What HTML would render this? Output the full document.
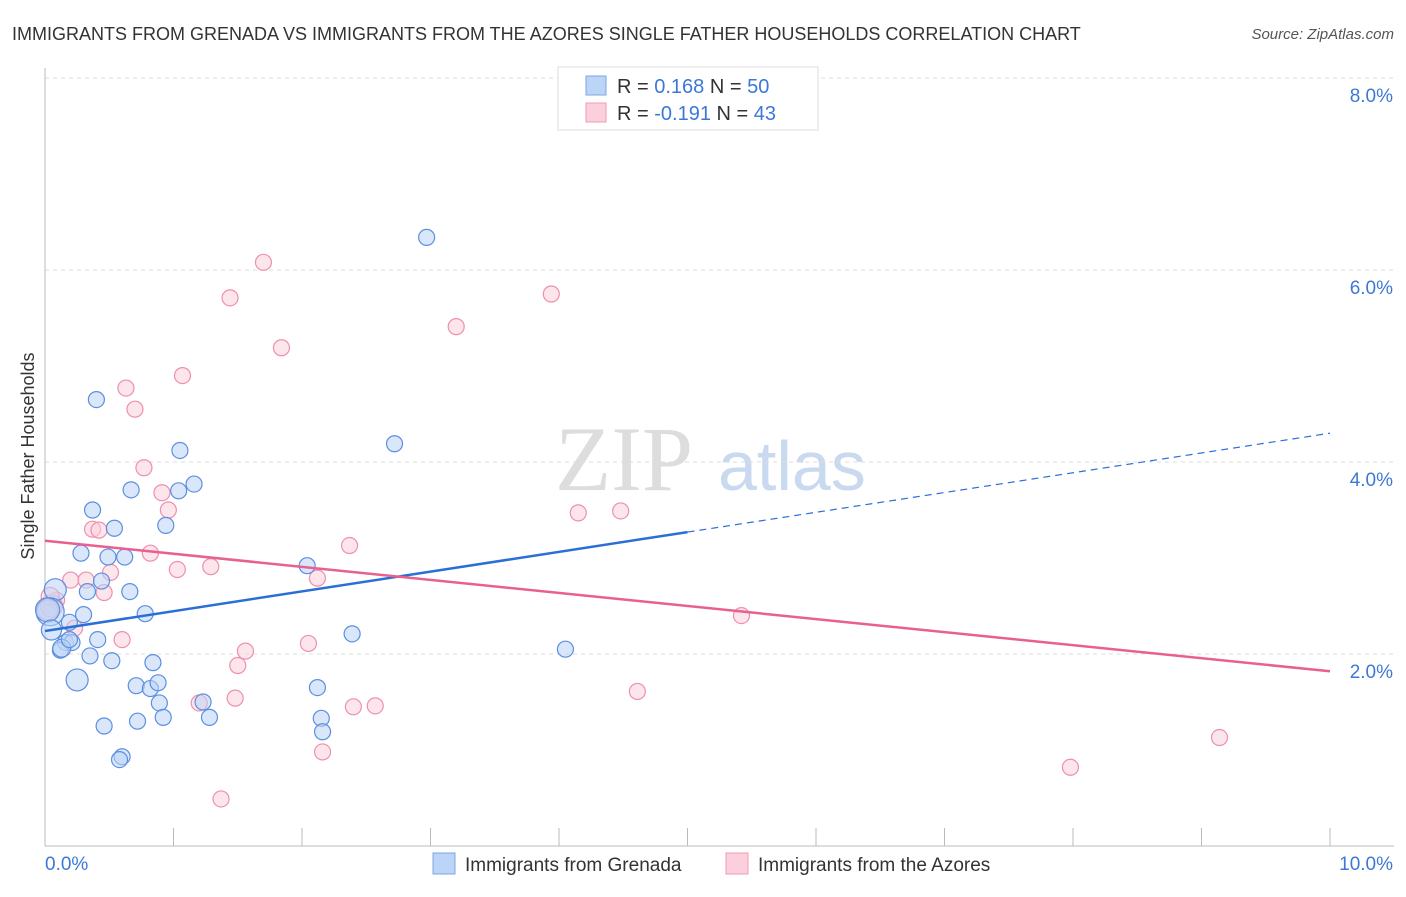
<!DOCTYPE html>
<html><head><meta charset="utf-8"><style>
body{margin:0;background:#fff;font-family:"Liberation Sans",sans-serif}
</style></head><body>
<svg id="c" width="1406" height="892" xmlns="http://www.w3.org/2000/svg">
<text x="12" y="40" font-size="18" fill="#333">IMMIGRANTS FROM GRENADA VS IMMIGRANTS FROM THE AZORES SINGLE FATHER HOUSEHOLDS CORRELATION CHART</text>
<text x="1394" y="39" font-size="15" fill="#555" font-style="italic" text-anchor="end">Source: ZipAtlas.com</text>
<text x="555" y="490" font-size="92" fill="#ddd" font-family="Liberation Serif,serif">ZIP</text>
<text x="718" y="490" font-size="70" fill="#c9d9ef">atlas</text>
<text transform="translate(34,456) rotate(-90)" font-size="18" fill="#333" text-anchor="middle">Single Father Households</text>
<g id="grid"></g><g id="pts"></g><g id="lines"></g>
<g>
<rect x="558" y="67" width="260" height="63" fill="#fff" stroke="#ddd"/>
<rect x="586" y="76" width="20" height="19" fill="#bcd4f5" stroke="#7aa6e6"/>
<rect x="586" y="103" width="20" height="19" fill="#fbd0dc" stroke="#f09ab4"/>
<text x="617" y="93" font-size="20" fill="#333">R = <tspan fill="#3c78d8"> 0.168</tspan>   N = <tspan fill="#3c78d8">50</tspan></text>
<text x="617" y="120" font-size="20" fill="#333">R = <tspan fill="#3c78d8">-0.191</tspan>   N = <tspan fill="#3c78d8">43</tspan></text>
</g>
<g>
<rect x="433" y="853" width="22" height="21" fill="#bcd4f5" stroke="#7aa6e6"/>
<text x="465" y="871" font-size="19" fill="#333">Immigrants from Grenada</text>
<rect x="726" y="853" width="22" height="21" fill="#fbd0dc" stroke="#f09ab4"/>
<text x="758" y="871" font-size="19" fill="#333">Immigrants from the Azores</text>
</g>
</svg>
<script>
const yTicks=[2,4,6,8];
const yTickLabels=["2.0%","4.0%","6.0%","8.0%"];
const xTickLabels=["0.0%","10.0%"];
const blueX=[0.40,1.05,0.67,1.16,1.04,0.37,0.54,0.94,0.28,0.49,0.62,0.44,0.33,0.66,0.30,0.78,0.08,0.04,0.19,0.41,0.16,0.21,0.12,0.35,0.52,0.84,0.25,0.71,0.82,0.88,0.89,1.23,0.46,0.72,0.92,1.28,0.60,0.58,2.97,2.72,2.04,2.39,4.05,2.12,2.15,2.16,0.02,0.05,0.13,0.19];
const blueY=[4.65,4.12,3.71,3.77,3.70,3.50,3.31,3.34,3.05,3.01,3.01,2.76,2.65,2.65,2.41,2.42,2.67,2.44,2.33,2.15,2.12,2.12,2.04,1.98,1.93,1.91,1.73,1.67,1.64,1.70,1.49,1.50,1.25,1.30,1.34,1.34,0.93,0.90,6.34,4.19,2.92,2.21,2.05,1.65,1.33,1.19,2.46,2.25,2.06,2.15];
const blueR=[8,8,8,8,8,8,8,8,8,8,8,8,8,8,8,8,11,14,8,8,8,8,8,8,8,8,11,8,8,8,8,8,8,8,8,8,8,8,8,8,8,8,8,8,8,8,12,10,9,8];
const pinkX=[1.70,1.44,1.84,1.07,0.63,0.70,0.77,0.91,0.96,0.37,0.42,0.82,0.51,1.03,1.29,0.20,0.32,0.46,0.09,0.05,0.23,0.60,1.56,1.50,2.05,2.12,2.37,1.48,1.20,2.40,2.57,2.16,1.37,3.94,3.20,4.15,4.48,5.42,4.61,7.98,9.14,0.04,0.02];
const pinkY=[6.08,5.71,5.19,4.90,4.77,4.55,3.94,3.68,3.50,3.30,3.29,3.05,2.85,2.88,2.91,2.77,2.77,2.64,2.56,2.50,2.27,2.15,2.03,1.88,2.11,2.79,3.13,1.54,1.49,1.45,1.46,0.98,0.49,5.75,5.41,3.47,3.49,2.40,1.61,0.82,1.13,2.60,2.46];
const pinkR=[8,8,8,8,8,8,8,8,8,8,8,8,8,8,8,8,8,8,8,11,8,8,8,8,8,8,8,8,8,8,8,8,8,8,8,8,8,8,8,8,8,9,10];
const blueTrend=[2.24,3.27,4.30];
const pinkTrend=[3.18,1.82];
const X=v=>45+v*128.5, Y=v=>846-v*96;
const NS="http://www.w3.org/2000/svg";
function mk(t,a,p){const e=document.createElementNS(NS,t);for(const k in a)e.setAttribute(k,a[k]);document.getElementById(p).appendChild(e);return e;}
const g=document.getElementById('c');
yTicks.forEach((t,i)=>{
 let l=mk('line',{x1:45,x2:1394,y1:Y(t),y2:Y(t),stroke:'#ddd','stroke-dasharray':'4,4'},'grid');
 
 
 let tx=mk('text',{x:1393,y:Y(t)+24,'font-size':19,fill:'#3c78d8','text-anchor':'end'},'grid');tx.textContent=yTickLabels[i];
 
 
});
let ax=mk('line',{x1:45,x2:1394,y1:846,y2:846,stroke:'#bbb'},'grid');


let ay=mk('line',{x1:45,x2:45,y1:68,y2:846,stroke:'#bbb'},'grid');


for(let i=1;i<=10;i++){let t=mk('line',{x1:X(i),x2:X(i),y1:828,y2:846,stroke:'#bbb'},'grid');
 
 }
[[0,'start',45],[10,'end',1393]].forEach(([v,a,x],i)=>{let t=mk('text',{x:x,y:870,'font-size':19,fill:'#3c78d8','text-anchor':a},'grid');t.textContent=xTickLabels[i];
 
 });
function pts(xs,ys,rs,f,s,n){xs.forEach((x,i)=>{let c=mk('circle',{cx:X(x),cy:Y(ys[i]),r:rs[i],fill:f,'fill-opacity':0.55,stroke:s,'stroke-width':1.2},'pts');
 
 });}
pts(pinkX,pinkY,pinkR,'#fbd0dc','#ee8fae','azores-point');
pts(blueX,blueY,blueR,'#bcd4f5','#5b8fe0','grenada-point');
let b1=mk('line',{x1:X(0),y1:Y(blueTrend[0]),x2:X(5),y2:Y(blueTrend[1]),stroke:'#2a6fd6','stroke-width':2.5},'lines');


let b2=mk('line',{x1:X(5),y1:Y(blueTrend[1]),x2:X(10),y2:Y(blueTrend[2]),stroke:'#2a6fd6','stroke-width':1.2,'stroke-dasharray':'7,5'},'lines');


let p1=mk('line',{x1:X(0),y1:Y(pinkTrend[0]),x2:X(10),y2:Y(pinkTrend[1]),stroke:'#e8608f','stroke-width':2.5},'lines');


</script>
</body></html>
